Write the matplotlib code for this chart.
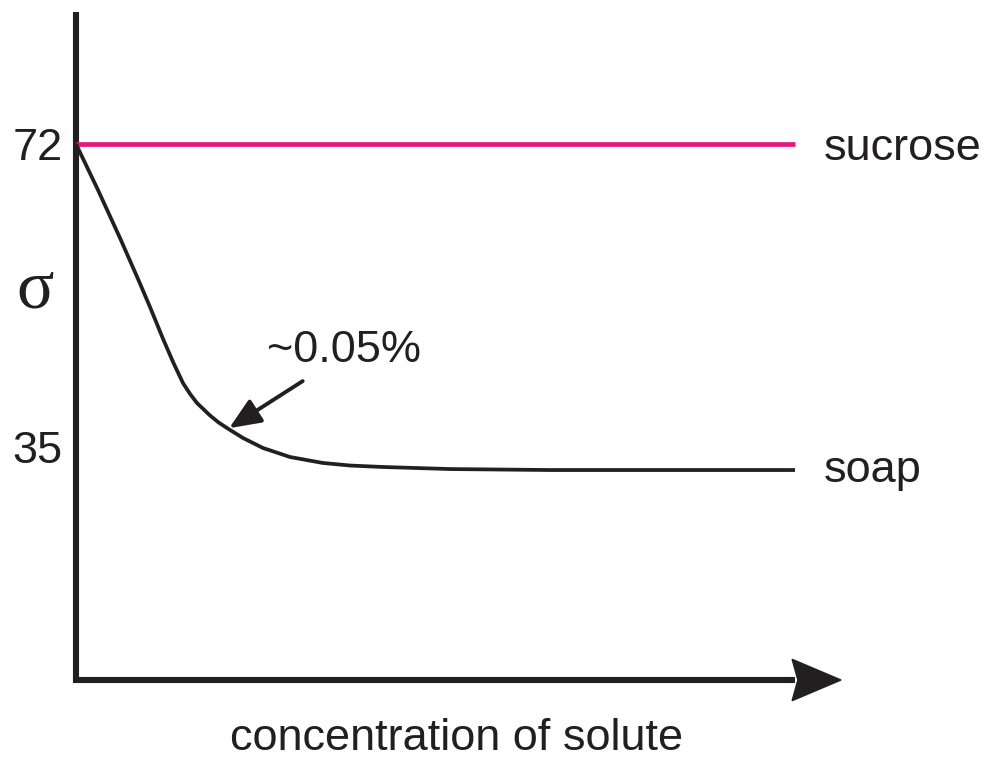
import matplotlib.pyplot as plt
from matplotlib.patches import Polygon

# concentration (arbitrary units, 0-100) and surface tension
sucrose_x = [0, 100]
sucrose_y = [72, 72]

soap_x = [0.0, 3.06, 6.12, 8.69, 10.29, 12.17, 13.56, 14.88, 15.85, 16.83, 18.64,
          19.80, 21.00, 23.23, 26.01, 29.76, 34.35, 38.11, 42.70, 52.02, 65.92, 100.0]
soap_y = [72.0, 66.38, 60.52, 55.39, 52.10, 48.07, 45.26, 42.81, 41.50, 40.37, 38.85,
          38.02, 37.32, 36.10, 34.88, 33.78, 33.05, 32.74, 32.56, 32.31, 32.19, 32.19]

ytick_vals = [72, 35]
ytick_labels = ['72', '35']

ink = '#231f20'
magenta = '#e2187e'
fs = 32.5

fig = plt.figure(figsize=(9.9, 7.59), dpi=100)
ax = fig.add_axes([76/990, 1 - 680/759, 719/990, 668/759])
ax.set_xlim(0, 100)
ax.set_ylim(6.55, 88.12)
for s in ax.spines.values():
    s.set_visible(False)

# axes drawn as one mitred polyline plus arrowhead
ax.plot([0, 0, 1], [1, 0, 0], transform=ax.transAxes, color=ink, lw=4.4,
        solid_joinstyle='miter', solid_capstyle='butt', clip_on=False)
ax.add_patch(Polygon([(0.996, 0.031), (1.064, 0), (0.996, -0.031), (1.004, 0)],
                     closed=True, transform=ax.transAxes, color=ink,
                     clip_on=False))

ax.plot(sucrose_x, sucrose_y, color=magenta, lw=3.4, solid_capstyle='butt',
        clip_on=False)
ax.plot(soap_x, soap_y, color=ink, lw=2.7, solid_capstyle='butt',
        solid_joinstyle='round', clip_on=False)

ax.set_xticks([])
ax.set_yticks(ytick_vals)
ax.set_yticklabels(ytick_labels, fontsize=fs, family='Liberation Sans', color=ink)
ax.tick_params(axis='y', length=0, pad=9.5)

ax.text(104.0, 70.05, 'sucrose', fontsize=fs, family='Liberation Sans',
        color=ink, va='baseline', ha='left', clip_on=False)
ax.text(104.0, 30.73, 'soap', fontsize=fs, family='Liberation Sans',
        color=ink, va='baseline', ha='left', clip_on=False)
ax.text(52.9, -1.95, 'concentration of solute', fontsize=fs,
        family='Liberation Sans', color=ink, va='baseline', ha='center',
        clip_on=False)
ax.text(-0.057, 0.583, 'σ', transform=ax.transAxes, fontsize=50,
        family='Liberation Serif', color=ink, va='center', ha='center')

ax.annotate('~0.05%', xy=(21.3, 37.3), xytext=(26.6, 45.4),
            fontsize=fs, family='Liberation Sans', color=ink,
            va='baseline', ha='left', annotation_clip=False,
            arrowprops=dict(arrowstyle='-|>,head_length=0.4,head_width=0.17',
                            mutation_scale=48, color=ink, lw=2.8,
                            shrinkA=0, shrinkB=0,
                            relpos=(0.23, -0.25)))

fig.savefig('out.png', dpi=100)
